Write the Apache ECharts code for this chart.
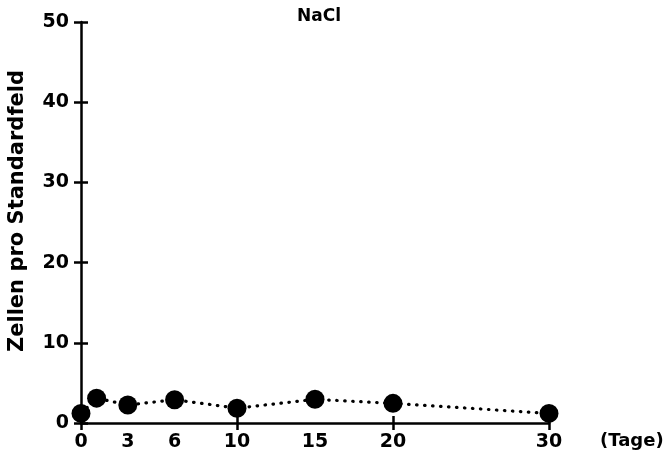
<!DOCTYPE html>
<html>
<head>
<meta charset="utf-8">
<script src="https://cdn.jsdelivr.net/npm/echarts@6/dist/echarts.min.js"></script>
<style>html,body{margin:0;padding:0;background:#fff}#c{width:671px;height:468px}</style>
</head>
<body>
<div id="c"></div>
<script>
const days = [0, 1, 3, 6, 10, 15, 20, 30];
const cellsPerField = [1.2, 3.1, 2.25, 2.9, 1.85, 2.95, 2.45, 1.2];
const xLabelValues = [0, 3, 6, 10, 15, 20, 30];
const xTickValues = [0, 10, 20, 30];
const yMin = 0, yMax = 50, yStep = 10;
const titleText = 'NaCl';
const yName = 'Zellen pro Standardfeld';
const xName = '(Tage)';

const FONT = 'DejaVu Sans';
const chart = echarts.init(document.getElementById('c'), null, {renderer: 'canvas'});
const points = days.map((d, i) => [d, cellsPerField[i]]);
const lbl = {color: '#000', fontFamily: FONT, fontWeight: 'bold', fontSize: 19};
const axLine = {show: true, lineStyle: {color: '#000', width: 2.5}};

chart.setOption({
  animation: false,
  backgroundColor: '#fff',
  title: {text: titleText, left: 314, top: 3, textAlign: 'center',
    textStyle: {color: '#000', fontFamily: FONT, fontWeight: 'bold', fontSize: 17}},
  grid: {left: 81, right: 122, top: 22, bottom: 45},
  xAxis: [
    {type: 'value', min: 0, max: 30, splitLine: {show: false},
     axisLine: axLine,
     axisTick: {show: true, length: 7, customValues: xTickValues, lineStyle: {color: '#000', width: 2.5}},
     axisLabel: Object.assign({customValues: xLabelValues, margin: 10}, lbl)},
    {type: 'value', min: 0, max: 30, position: 'bottom', splitLine: {show: false},
     axisLine: {show: false},
     axisTick: {show: true, inside: true, length: 7, customValues: xTickValues, lineStyle: {color: '#000', width: 2.5}},
     axisLabel: {show: false}}
  ],
  yAxis: [
    {type: 'value', min: yMin, max: yMax, interval: yStep, splitLine: {show: false},
     axisLine: axLine,
     axisTick: {show: true, length: 7, lineStyle: {color: '#000', width: 2.5}},
     axisLabel: Object.assign({margin: 12}, lbl)},
    {type: 'value', min: yMin, max: yMax, interval: yStep, position: 'left', splitLine: {show: false},
     axisLine: {show: false},
     axisTick: {show: true, inside: true, length: 7, lineStyle: {color: '#000', width: 2.5}},
     axisLabel: {show: false}}
  ],
  series: [{
    type: 'line', xAxisIndex: 0, yAxisIndex: 0, data: points,
    symbol: 'circle', symbolSize: 19,
    itemStyle: {color: '#000'},
    lineStyle: {color: '#000', width: 3.2, type: [0.5, 7.5], cap: 'round'}
  }],
  graphic: [
    {type: 'text', x: 18, y: 211, rotation: Math.PI / 2,
     style: {text: yName, fill: '#000', font: 'bold 21px "DejaVu Sans"', align: 'center', verticalAlign: 'middle'}},
    {type: 'text', x: 600, y: 441,
     style: {text: xName, fill: '#000', font: 'bold 18px "DejaVu Sans"', align: 'left', verticalAlign: 'middle'}}
  ]
});
</script>
</body>
</html>
